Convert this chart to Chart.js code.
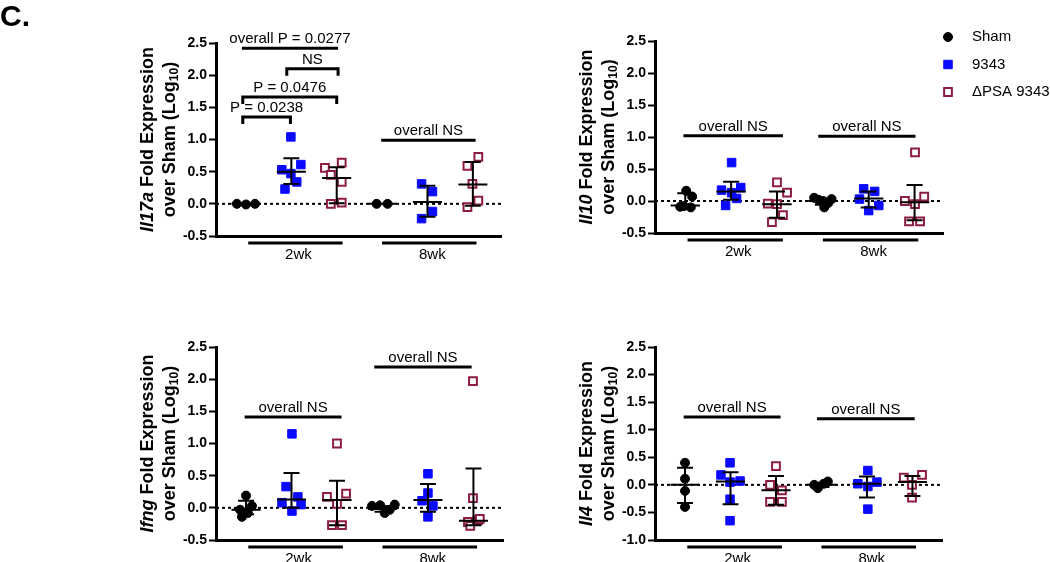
<!DOCTYPE html>
<html>
<head>
<meta charset="utf-8">
<script src="https://cdn.jsdelivr.net/npm/chart.js@4.4.0/dist/chart.umd.min.js"></script>
<style>
  html, body { margin: 0; padding: 0; background: #fff; }
  #wrap { position: relative; width: 1050px; height: 562px; }
  #wrap canvas { position: absolute; left: 0; top: 0; }
</style>
</head>
<body>
<div id="wrap">
  <canvas id="il17a" width="1050" height="562"></canvas>
  <canvas id="il10" width="1050" height="562"></canvas>
  <canvas id="ifng" width="1050" height="562"></canvas>
  <canvas id="il4" width="1050" height="562"></canvas>
</div>
<script>
var groups = ['Sham', '9343', '\u0394PSA 9343'];
var timepoints = ['2wk', '8wk'];
var ticksMain = [-0.5, 0, 0.5, 1.0, 1.5, 2.0, 2.5];
var ticksIl4 = [-1.0, -0.5, 0, 0.5, 1.0, 1.5, 2.0, 2.5];

// points: [group position, log10 fold]
var il17aSham = [[0.80, 0], [1.00, -0.01], [1.20, 0], [3.88, 0], [4.12, 0]];
var il17aWt = [[1.99, 1.04], [1.79, 0.53], [2.21, 0.61], [1.99, 0.47], [2.12, 0.34], [1.86, 0.23],
               [4.87, 0.31], [5.11, 0.19], [5.11, -0.12], [4.87, -0.23]];
var il17aDpsa = [[2.74, 0.56], [3.11, 0.64], [2.87, 0.45], [3.11, 0.34], [2.87, 0.00], [3.11, 0.02],
                 [5.88, 0.59], [6.12, 0.73], [5.99, 0.31], [6.12, 0.05], [5.88, -0.05]];
var il17aMean = [0, 0.50, 0.40, 0, 0.03, 0.30];
var il17aLow = [0, 0.31, 0.01, 0, -0.20, -0.03];
var il17aHigh = [0, 0.71, 0.57, 0, 0.28, 0.65];

var il10Sham = [[0.89, -0.09], [1.02, 0.16], [1.15, 0.07], [1.12, -0.10], [0.97, -0.08],
                [3.81, 0.05], [4.01, 0.00], [4.03, -0.10], [4.19, 0.03], [4.12, -0.03], [3.90, 0.02]];
var il10Wt = [[2.01, 0.60], [1.79, 0.17], [2.21, 0.21], [2.01, 0.13], [2.12, 0.04], [1.88, -0.07],
              [4.89, 0.19], [5.13, 0.15], [4.80, 0.03], [5.22, -0.07], [5.00, -0.15]];
var il10Dpsa = [[3.00, 0.29], [3.22, 0.13], [2.80, -0.04], [3.00, -0.05], [3.13, -0.22], [2.89, -0.33],
                [6.01, 0.76], [6.21, 0.07], [5.79, 0.00], [6.01, -0.05], [5.88, -0.32], [6.12, -0.32]];
var il10Mean = [-0.07, 0.15, -0.05, 0.00, 0.04, -0.02];
var il10Low = [-0.07, 0.02, -0.26, -0.06, -0.10, -0.30];
var il10High = [0.12, 0.30, 0.15, 0.04, 0.15, 0.25];

var ifngSham = [[1.00, 0.19], [0.87, -0.03], [1.13, 0.03], [0.91, -0.14], [1.04, -0.08],
                [3.77, 0.03], [3.95, 0.04], [4.16, -0.03], [4.05, -0.08], [4.27, 0.05]];
var ifngWt = [[2.01, 1.15], [1.88, 0.33], [2.14, 0.17], [1.79, 0.08], [2.21, 0.05], [2.01, -0.05],
              [5.00, 0.53], [5.00, 0.23], [4.87, 0.11], [5.11, 0.03], [5.00, -0.14]];
var ifngDpsa = [[3.00, 1.00], [3.20, 0.22], [2.78, 0.17], [3.00, 0.06], [2.89, -0.27], [3.11, -0.27],
                [5.99, 1.97], [5.99, 0.15], [5.88, -0.22], [6.10, -0.19], [5.93, -0.28], [6.14, -0.17]];
var ifngMean = [-0.03, 0.13, 0.12, -0.02, 0.12, -0.20];
var ifngLow = [-0.10, 0.00, -0.27, -0.06, -0.06, -0.27];
var ifngHigh = [0.11, 0.54, 0.42, 0.03, 0.37, 0.61];

var il4Sham = [[1.00, 0.40], [1.00, 0.11], [1.00, -0.11], [1.00, -0.40],
               [3.84, 0.00], [3.92, -0.06], [4.05, 0.02], [4.14, 0.06]];
var il4Wt = [[1.99, 0.40], [1.79, 0.18], [2.21, 0.07], [1.99, 0.05], [1.99, -0.26], [1.99, -0.65],
             [5.02, 0.26], [4.80, 0.02], [5.22, 0.05], [5.02, -0.03], [5.02, -0.44]];
var il4Dpsa = [[3.00, 0.34], [2.87, 0.00], [3.13, -0.10], [2.87, -0.31], [3.13, -0.31],
               [5.81, 0.13], [6.21, 0.18], [5.99, 0.00], [5.99, -0.23]];
var il4Mean = [0.00, 0.06, -0.10, 0.00, 0.02, 0.05];
var il4Low = [-0.33, -0.35, -0.36, -0.04, -0.23, -0.20];
var il4High = [0.31, 0.23, 0.16, 0.04, 0.15, 0.16];

var FONT = '"Liberation Sans", Arial, sans-serif';
var MAROON = '#8c1c40';
var BLUE = '#0a0aff';
var styles = [
  { pointStyle: 'circle', radius: 4.5, bg: '#000', border: '#000', bw: 1 },
  { pointStyle: 'rect', radius: 6, bg: BLUE, border: BLUE, bw: 1 },
  { pointStyle: 'rect', radius: 5.5, bg: '#fff', border: MAROON, bw: 2 }
];

var panels = {
  il17a: {
    gene: 'Il17a', area: [216, 43, 501, 236], ticks: ticksMain, xMax: 6.62, label: true,
    series: [il17aSham, il17aWt, il17aDpsa], mean: il17aMean, low: il17aLow, high: il17aHigh,
    brackets: [
      { x1: 0.91, x2: 3.03, y: 2.42, text: 'overall P = 0.0277' },
      { x1: 1.90, x2: 3.03, y: 2.10, text: 'NS', drop: true },
      { x1: 0.93, x2: 3.00, y: 1.66, text: 'P = 0.0476', drop: true },
      { x1: 0.93, x2: 1.98, y: 1.35, text: 'P = 0.0238', drop: true },
      { x1: 3.98, x2: 6.06, y: 0.99, text: 'overall NS' }
    ]
  },
  il10: {
    gene: 'Il10', area: [655, 41, 943, 233], ticks: ticksMain, xMax: 6.62, legend: true,
    series: [il10Sham, il10Wt, il10Dpsa], mean: il10Mean, low: il10Low, high: il10High,
    brackets: [
      { x1: 0.96, x2: 3.13, y: 1.02, text: 'overall NS' },
      { x1: 3.90, x2: 6.02, y: 1.01, text: 'overall NS' }
    ]
  },
  ifng: {
    gene: 'Ifng', area: [216, 347, 503, 540], ticks: ticksMain, xMax: 6.65,
    series: [ifngSham, ifngWt, ifngDpsa], mean: ifngMean, low: ifngLow, high: ifngHigh,
    brackets: [
      { x1: 0.97, x2: 3.10, y: 1.41, text: 'overall NS' },
      { x1: 3.82, x2: 5.96, y: 2.19, text: 'overall NS' }
    ]
  },
  il4: {
    gene: 'Il4', area: [655, 347, 942, 540], ticks: ticksIl4, xMax: 6.65,
    series: [il4Sham, il4Wt, il4Dpsa], mean: il4Mean, low: il4Low, high: il4High,
    brackets: [
      { x1: 0.97, x2: 3.10, y: 1.23, text: 'overall NS' },
      { x1: 3.90, x2: 6.05, y: 1.20, text: 'overall NS' }
    ]
  }
};
var timeSpans = [[1.05, 3.13], [4.00, 6.08]];

function drawRich(ctx, parts, cx, cy) {
  var w = 0;
  parts.forEach(function (p) { ctx.font = p.font; w += ctx.measureText(p.text).width; });
  var x = cx - w / 2;
  parts.forEach(function (p) {
    ctx.font = p.font;
    ctx.fillText(p.text, x, cy + (p.dy || 0));
    x += ctx.measureText(p.text).width;
  });
}

// titles, brackets, time bars, legend
var decor = {
  id: 'decor',
  afterDraw: function (chart) {
    var p = panels[chart.canvas.id];
    var ctx = chart.ctx, xs = chart.scales.x, ys = chart.scales.y, a = chart.chartArea;
    ctx.save();
    ctx.fillStyle = '#000';
    ctx.strokeStyle = '#000';
    ctx.textAlign = 'left';
    ctx.textBaseline = 'middle';
    var cy = (a.top + a.bottom) / 2;
    ctx.save();
    ctx.translate(a.left - 68, cy);
    ctx.rotate(-Math.PI / 2);
    drawRich(ctx, [
      { text: p.gene, font: 'italic bold 18px ' + FONT },
      { text: ' Fold Expression', font: 'bold 18px ' + FONT }
    ], 0, 0);
    ctx.restore();
    ctx.save();
    ctx.translate(a.left - 46, cy);
    ctx.rotate(-Math.PI / 2);
    drawRich(ctx, [
      { text: 'over Sham (Log', font: 'bold 18px ' + FONT },
      { text: '10', font: 'bold 12px ' + FONT, dy: 5 },
      { text: ')', font: 'bold 18px ' + FONT }
    ], 0, 0);
    ctx.restore();

    ctx.lineWidth = 3;
    ctx.font = '15px ' + FONT;
    ctx.textAlign = 'center';
    ctx.textBaseline = 'alphabetic';
    p.brackets.forEach(function (b) {
      var x1 = xs.getPixelForValue(b.x1), x2 = xs.getPixelForValue(b.x2), y = ys.getPixelForValue(b.y);
      ctx.beginPath();
      if (b.drop) {
        ctx.moveTo(x1, y + 7); ctx.lineTo(x1, y); ctx.lineTo(x2, y); ctx.lineTo(x2, y + 7);
      } else {
        ctx.moveTo(x1, y); ctx.lineTo(x2, y);
      }
      ctx.stroke();
      ctx.fillText(b.text, (x1 + x2) / 2, y - 5);
    });

    var yb = a.bottom + 7;
    ctx.textBaseline = 'top';
    timeSpans.forEach(function (s, i) {
      var x1 = xs.getPixelForValue(s[0]), x2 = xs.getPixelForValue(s[1]);
      ctx.beginPath(); ctx.moveTo(x1, yb); ctx.lineTo(x2, yb); ctx.stroke();
      ctx.fillText(timepoints[i], (x1 + x2) / 2 + 3, yb + 4);
    });

    if (p.label) {
      ctx.textAlign = 'left';
      ctx.textBaseline = 'alphabetic';
      ctx.font = 'bold 30px ' + FONT;
      ctx.fillText('C.', 0, 26);
    }
    if (p.legend) {
      ctx.textAlign = 'left';
      ctx.textBaseline = 'middle';
      ctx.font = '15px ' + FONT;
      groups.forEach(function (g, i) {
        var y = a.top - 4 + i * 27.5, st = styles[i];
        ctx.fillStyle = st.bg; ctx.strokeStyle = st.border; ctx.lineWidth = st.bw;
        Chart.helpers.drawPoint(ctx, { pointStyle: st.pointStyle, radius: st.radius, rotation: 0, borderWidth: st.bw }, a.right + 5, y);
        ctx.fillStyle = '#000';
        ctx.fillText(g, a.right + 29, y);
      });
    }
    ctx.restore();
  }
};

function summaryLines(mean, low, high) {
  var pts = [];
  mean.forEach(function (m, i) {
    var c = i + 1;
    pts.push({ x: c - 0.32, y: m }, { x: c + 0.32, y: m }, { x: c, y: null });
    pts.push({ x: c, y: low[i] }, { x: c, y: high[i] }, { x: c, y: null });
    pts.push({ x: c - 0.175, y: high[i] }, { x: c + 0.175, y: high[i] }, { x: c, y: null });
    pts.push({ x: c - 0.175, y: low[i] }, { x: c + 0.175, y: low[i] }, { x: c, y: null });
  });
  return pts;
}

function makePanel(id) {
  var p = panels[id];
  var xMin = 0.34;
  var datasets = [{
    data: summaryLines(p.mean, p.low, p.high),
    showLine: true, borderColor: '#000', borderWidth: 2, pointRadius: 0, spanGaps: false
  }];
  for (var g = 2; g >= 0; g--) {
    var st = styles[g];
    datasets.push({
      label: groups[g],
      data: p.series[g].map(function (d) { return { x: d[0], y: d[1] }; }),
      pointStyle: st.pointStyle, pointRadius: st.radius,
      pointBackgroundColor: st.bg, pointBorderColor: st.border, pointBorderWidth: st.bw
    });
  }
  datasets.push({
    data: [{ x: xMin, y: 0 }, { x: p.xMax, y: 0 }],
    showLine: true, borderColor: '#000', borderWidth: 2, borderDash: [3, 3], pointRadius: 0
  });
  var ticks = p.ticks;
  new Chart(document.getElementById(id), {
    type: 'scatter',
    data: { datasets: datasets },
    options: {
      responsive: false,
      animation: false,
      events: [],
      devicePixelRatio: 1,
      layout: { padding: { left: p.area[0] - 60, top: p.area[1], right: 1050 - p.area[2], bottom: 562 - p.area[3] } },
      plugins: { legend: { display: false }, tooltip: { enabled: false } },
      scales: {
        x: {
          type: 'linear', min: xMin, max: p.xMax,
          grid: { display: false },
          ticks: { display: false },
          border: { display: true, color: '#000', width: 3 },
          afterFit: function (s) { s.height = 0; }
        },
        y: {
          type: 'linear', min: ticks[0], max: ticks[ticks.length - 1],
          afterBuildTicks: function (s) { s.ticks = ticks.map(function (v) { return { value: v }; }); },
          grid: { display: true, drawOnChartArea: false, drawTicks: true, tickLength: 7, tickWidth: 2, tickColor: '#000' },
          border: { display: true, color: '#000', width: 3 },
          ticks: {
            color: '#000', padding: 2,
            font: { family: FONT, size: 14, weight: 'bold' },
            callback: function (v) { return Number(v).toFixed(1); }
          },
          afterFit: function (s) { s.width = 60; }
        }
      }
    },
    plugins: [decor]
  });
}

['il17a', 'il10', 'ifng', 'il4'].forEach(makePanel);
</script>
</body>
</html>
